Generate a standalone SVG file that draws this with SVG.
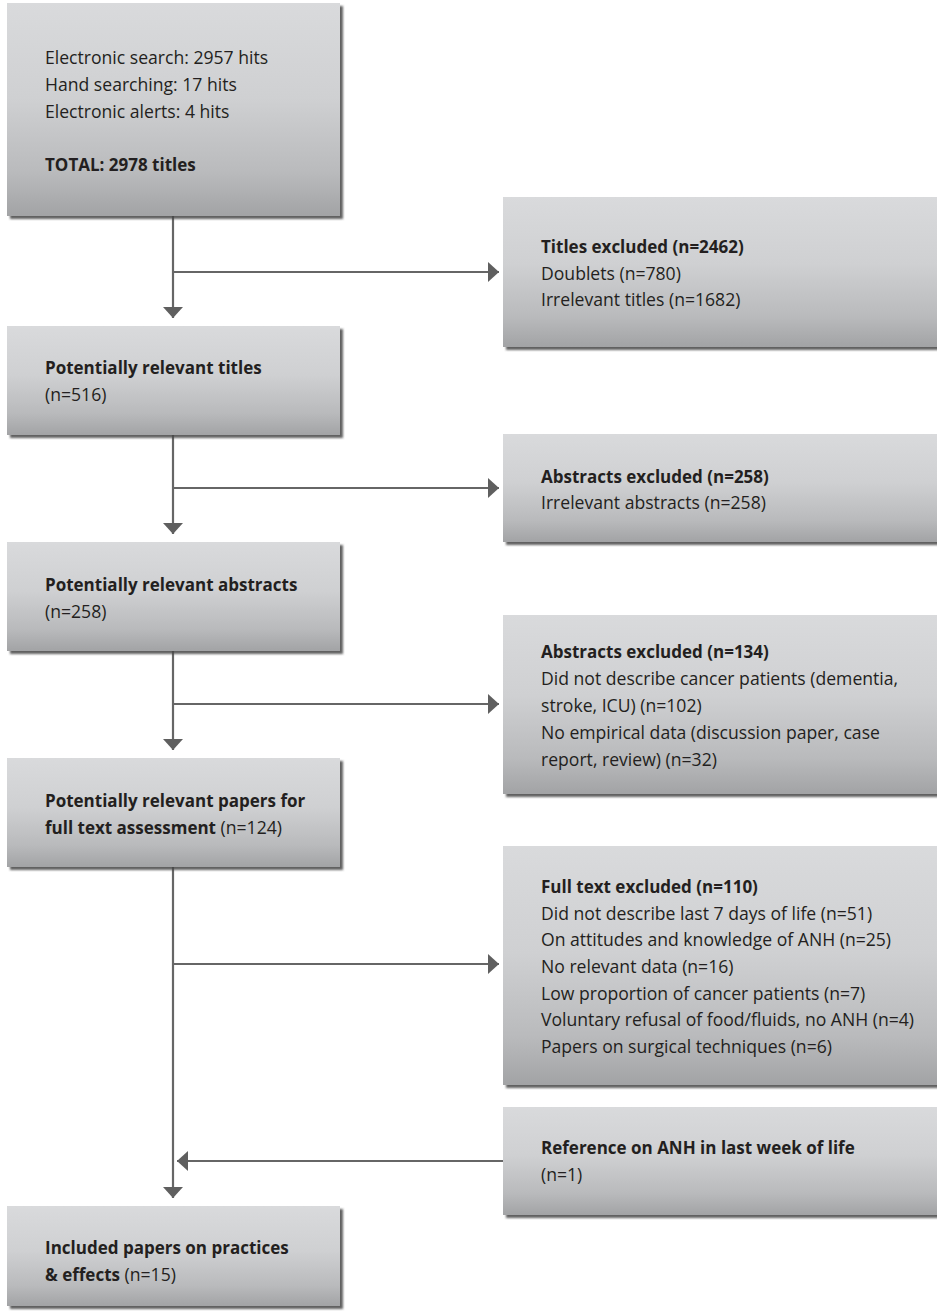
<svg xmlns="http://www.w3.org/2000/svg" width="937" height="1311" viewBox="0 0 937 1311">
<style>
.box{fill:url(#g);filter:url(#sh)}
text{font-family:"Open Sans","Noto Sans","Liberation Sans",sans-serif;font-size:17.6px;fill:#231f20}
.b{font-weight:bold;font-size:17px}
.con{stroke:#666;stroke-width:2.2;fill:none;marker-end:url(#ah)}
</style>
<defs>
<linearGradient id="g" x1="0" y1="0" x2="0" y2="1">
<stop offset="0" stop-color="#d9dadc"/>
<stop offset="0.45" stop-color="#cfd0d2"/>
<stop offset="0.8" stop-color="#b9babc"/>
<stop offset="1" stop-color="#a2a3a5"/>
</linearGradient>
<filter id="sh" x="-5%" y="-5%" width="115%" height="115%">
<feDropShadow dx="3" dy="3" stdDeviation="1.2" flood-color="#444" flood-opacity="0.85"/>
</filter>
<marker id="ah" markerUnits="userSpaceOnUse" markerWidth="12" markerHeight="22" viewBox="0 -11 12 22" refX="11" refY="0" orient="auto">
<path d="M0,-10 L11,0 L0,10 z" fill="#5f5f5f"/>
</marker>
</defs>
<g id="connectors">
<line class="con" x1="173" y1="216" x2="173" y2="318"/>
<line class="con" x1="173" y1="272" x2="499" y2="272"/>
<line class="con" x1="173" y1="435" x2="173" y2="534"/>
<line class="con" x1="173" y1="488" x2="499" y2="488"/>
<line class="con" x1="173" y1="651" x2="173" y2="750"/>
<line class="con" x1="173" y1="704" x2="499" y2="704"/>
<line class="con" x1="173" y1="867" x2="173" y2="1198"/>
<line class="con" x1="173" y1="964" x2="499" y2="964"/>
<line class="con" x1="503" y1="1161" x2="177" y2="1161"/>
</g>
<g id="n1">
<rect class="box" x="7" y="3" width="333" height="213"/>
<text x="45" y="64">Electronic search: 2957 hits</text>
<text x="45" y="91">Hand searching: 17 hits</text>
<text x="45" y="118">Electronic alerts: 4 hits</text>
<text class="b" x="45" y="171">TOTAL: 2978 titles</text>
</g>
<g id="n2">
<rect class="box" x="7" y="326" width="333" height="109"/>
<text class="b" x="45" y="374">Potentially relevant titles</text>
<text x="45" y="401">(n=516)</text>
</g>
<g id="n3">
<rect class="box" x="7" y="542" width="333" height="109"/>
<text class="b" x="45" y="591">Potentially relevant abstracts</text>
<text x="45" y="618">(n=258)</text>
</g>
<g id="n4">
<rect class="box" x="7" y="758" width="333" height="109"/>
<text class="b" x="45" y="807">Potentially relevant papers for</text>
<text x="45" y="834"><tspan class="b">full text assessment</tspan> (n=124)</text>
</g>
<g id="n5">
<rect class="box" x="7" y="1206" width="333" height="100"/>
<text class="b" x="45" y="1254">Included papers on practices</text>
<text x="45" y="1281"><tspan class="b">&amp; effects</tspan> (n=15)</text>
</g>
<g id="r1">
<rect class="box" x="503" y="197" width="460" height="150"/>
<text class="b" x="541" y="253">Titles excluded (n=2462)</text>
<text x="541" y="280">Doublets (n=780)</text>
<text x="541" y="306">Irrelevant titles (n=1682)</text>
</g>
<g id="r2">
<rect class="box" x="503" y="434" width="460" height="108"/>
<text class="b" x="541" y="483">Abstracts excluded (n=258)</text>
<text x="541" y="509">Irrelevant abstracts (n=258)</text>
</g>
<g id="r3">
<rect class="box" x="503" y="615" width="460" height="179"/>
<text class="b" x="541" y="658">Abstracts excluded (n=134)</text>
<text x="541" y="685">Did not describe cancer patients (dementia,</text>
<text x="541" y="712">stroke, ICU) (n=102)</text>
<text x="541" y="739">No empirical data (discussion paper, case</text>
<text x="541" y="766">report, review) (n=32)</text>
</g>
<g id="r4">
<rect class="box" x="503" y="846" width="460" height="239"/>
<text class="b" x="541" y="893">Full text excluded (n=110)</text>
<text x="541" y="920">Did not describe last 7 days of life (n=51)</text>
<text x="541" y="946">On attitudes and knowledge of ANH (n=25)</text>
<text x="541" y="973">No relevant data (n=16)</text>
<text x="541" y="1000">Low proportion of cancer patients (n=7)</text>
<text x="541" y="1026">Voluntary refusal of food/fluids, no ANH (n=4)</text>
<text x="541" y="1053">Papers on surgical techniques (n=6)</text>
</g>
<g id="r5">
<rect class="box" x="503" y="1107" width="460" height="108"/>
<text class="b" x="541" y="1154">Reference on ANH in last week of life</text>
<text x="541" y="1181">(n=1)</text>
</g>
</svg>
